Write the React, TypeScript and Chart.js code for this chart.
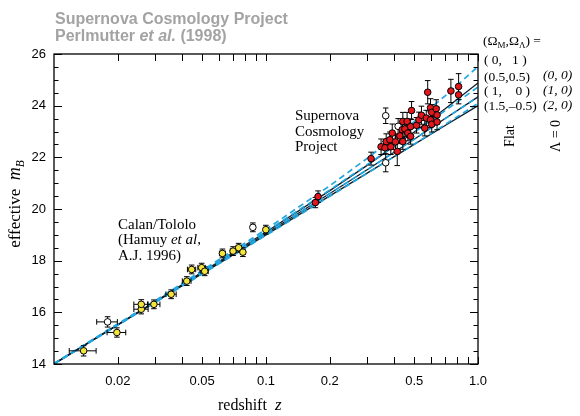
import React, { useEffect, useRef } from "react";
import { Chart, registerables } from "chart.js";

Chart.register(...registerables);

// ---------- data ----------
// Calan/Tololo (Hamuy et al. 1996) supernovae (yellow)
const calanZ = [0.0138, 0.0198, 0.0258, 0.0258, 0.0296, 0.0357, 0.0423, 0.0446, 0.0497, 0.0514, 0.0623, 0.0699, 0.0743, 0.0778, 0.0998];
const calanM = [14.51, 15.22, 16.12, 16.31, 16.31, 16.70, 17.21, 17.66, 17.73, 17.59, 18.28, 18.37, 18.50, 18.33, 19.20];
const calanErr = [0.2, 0.18, 0.18, 0.18, 0.17, 0.17, 0.17, 0.17, 0.17, 0.17, 0.17, 0.17, 0.17, 0.17, 0.17];
const calanZErr = [0.002, 0.002, 0.002, 0.002, 0.002, 0.002, 0.002, 0.002, 0.002, 0.002, 0.002, 0.002, 0.002, 0.002, 0.002];

// excluded low-redshift supernovae (open)
const openLowZ = [0.0179, 0.0867];
const openLowM = [15.63, 19.29];
const openLowErr = [0.2, 0.17];
const openLowZErr = [0.002, 0.002];

// Supernova Cosmology Project (red)
const scpZ = [0.171, 0.176, 0.313, 0.349, 0.364, 0.369, 0.384, 0.388, 0.394, 0.408, 0.416, 0.428, 0.439, 0.442, 0.442, 0.452, 0.463, 0.467, 0.481, 0.481, 0.486, 0.513, 0.526, 0.541, 0.561, 0.570, 0.579, 0.597, 0.597, 0.605, 0.605, 0.635, 0.641, 0.641, 0.745, 0.810, 0.810];
const scpM = [20.25, 20.48, 21.95, 22.41, 22.37, 22.61, 22.68, 22.41, 22.94, 22.60, 22.23, 22.83, 23.07, 23.39, 22.61, 23.10, 23.39, 22.94, 23.19, 22.81, 23.81, 23.24, 23.45, 23.63, 23.13, 23.52, 24.52, 23.92, 23.45, 23.74, 23.28, 23.88, 23.64, 23.37, 24.57, 24.74, 24.42];
const scpErr = [0.2, 0.22, 0.25, 0.3, 0.25, 0.3, 0.3, 0.3, 0.35, 0.3, 0.55, 0.3, 0.3, 0.35, 0.3, 0.3, 0.35, 0.3, 0.3, 0.3, 0.35, 0.3, 0.3, 0.35, 0.3, 0.3, 0.45, 0.35, 0.3, 0.3, 0.3, 0.35, 0.3, 0.3, 0.45, 0.5, 0.35];

// excluded high-redshift supernovae (open)
const openHighZ = [0.367, 0.420, 0.367];
const openHighM = [23.61, 23.20, 21.79];
const openHighErr = [0.3, 0.3, 0.35];

// model curves (Omega_M, Omega_Lambda)
const modelZ = [0.01, 0.03, 0.1, 0.2, 0.3, 0.5, 0.7, 1.0];
const flat_0_1 = [14.02, 16.45, 19.21, 20.90, 21.96, 23.38, 24.38, 25.51];
const flat_05_05 = [14.01, 16.43, 19.13, 20.74, 21.71, 22.97, 23.81, 24.72];
const flat_1_0 = [14.01, 16.40, 19.05, 20.60, 21.52, 22.70, 23.50, 24.34];
const flat_15_m05 = [14.00, 16.38, 18.98, 20.49, 21.38, 22.51, 23.27, 24.09];
const lam0_0 = [14.01, 16.42, 19.11, 20.71, 21.69, 22.98, 23.88, 24.88];
const lam0_1 = [14.01, 16.40, 19.05, 20.60, 21.52, 22.70, 23.50, 24.34];
const lam0_2 = [14.00, 16.39, 19.00, 20.51, 21.39, 22.50, 23.23, 24.00];

// axes
const xMin = 0.01;
const xMax = 1.0;
const xTickValues = [0.02, 0.03, 0.04, 0.05, 0.06, 0.07, 0.08, 0.09, 0.1, 0.2, 0.3, 0.4, 0.5, 0.6, 0.7, 0.8, 0.9, 1.0];
const xLabelValues = [0.02, 0.05, 0.1, 0.2, 0.5, 1.0];
const xLabelTexts = ["0.02", "0.05", "0.1", "0.2", "0.5", "1.0"];
const yMin = 14;
const yMax = 26;
const yTickValues = [14, 16, 18, 20, 22, 24, 26];
const yMinorStep = 0.5;

// ---------- styling ----------
const SANS = "'Liberation Sans', Arial, Helvetica, sans-serif";
const SERIF = "'Liberation Serif', 'Times New Roman', Times, serif";
const CYAN = "#22a6e0";
const DARK = "#0c1c28";

type Seg = { t: string; font: string; dy?: number };

function segWidth(ctx: CanvasRenderingContext2D, segs: Seg[]) {
  let w = 0;
  for (const s of segs) {
    ctx.font = s.font;
    w += ctx.measureText(s.t).width;
  }
  return w;
}

function drawSegs(ctx: CanvasRenderingContext2D, segs: Seg[], x: number, y: number) {
  let cx = x;
  for (const s of segs) {
    ctx.font = s.font;
    ctx.fillText(s.t, cx, y + (s.dy || 0));
    cx += ctx.measureText(s.t).width;
  }
}

const errorBarPlugin = {
  id: "errorBars",
  beforeDatasetDraw(chart: any, args: any) {
    if (args.index !== 3) return;
    const { ctx, scales } = chart;
    const xs = scales.x;
    const ys = scales.y;
    ctx.save();
    ctx.strokeStyle = "#000";
    ctx.lineWidth = 1;
    const cap = 2.8;
    for (let d = 0; d < 4; d++) {
      const data = chart.data.datasets[d].data as any[];
      ctx.beginPath();
      for (const p of data) {
        const px = xs.getPixelForValue(p.x);
        const py = ys.getPixelForValue(p.y);
        if (p.ey) {
          const y1 = ys.getPixelForValue(p.y - p.ey);
          const y2 = ys.getPixelForValue(p.y + p.ey);
          ctx.moveTo(px, y1);
          ctx.lineTo(px, y2);
          ctx.moveTo(px - cap, y1);
          ctx.lineTo(px + cap, y1);
          ctx.moveTo(px - cap, y2);
          ctx.lineTo(px + cap, y2);
        }
        if (p.ex) {
          const x1 = xs.getPixelForValue(p.x - p.ex);
          const x2 = xs.getPixelForValue(p.x + p.ex);
          ctx.moveTo(x1, py);
          ctx.lineTo(x2, py);
          ctx.moveTo(x1, py - cap);
          ctx.lineTo(x1, py + cap);
          ctx.moveTo(x2, py - cap);
          ctx.lineTo(x2, py + cap);
        }
      }
      ctx.stroke();
    }
    ctx.restore();
  },
};

const framePlugin = {
  id: "frameTicks",
  afterDraw(chart: any) {
    const { ctx, chartArea: a, scales } = chart;
    const xs = scales.x;
    const ys = scales.y;
    ctx.save();
    ctx.strokeStyle = "#000";
    ctx.lineWidth = 1.3;
    ctx.strokeRect(a.left, a.top, a.right - a.left, a.bottom - a.top);
    ctx.lineWidth = 1;
    ctx.beginPath();
    for (const v of xTickValues) {
      const px = Math.round(xs.getPixelForValue(v)) + 0.5;
      ctx.moveTo(px, a.bottom);
      ctx.lineTo(px, a.bottom - 7);
      ctx.moveTo(px, a.top);
      ctx.lineTo(px, a.top + 7);
    }
    for (let v = yMin; v <= yMax + 1e-9; v += yMinorStep) {
      const py = Math.round(ys.getPixelForValue(v)) + 0.5;
      const major = yTickValues.some((t) => Math.abs(t - v) < 1e-9);
      const len = major ? 8 : 4.5;
      ctx.moveTo(a.left, py);
      ctx.lineTo(a.left + len, py);
      ctx.moveTo(a.right, py);
      ctx.lineTo(a.right - len, py);
    }
    ctx.stroke();

    // ---- texts ----
    ctx.textBaseline = "alphabetic";
    ctx.textAlign = "left";

    // title
    ctx.fillStyle = "#a3a3a3";
    drawSegs(ctx, [{ t: "Supernova Cosmology Project", font: `bold 16px ${SANS}` }], 55, 24);
    drawSegs(
      ctx,
      [
        { t: "Perlmutter ", font: `bold 16px ${SANS}` },
        { t: "et al.", font: `italic bold 16px ${SANS}` },
        { t: " (1998)", font: `bold 16px ${SANS}` },
      ],
      55,
      41
    );

    ctx.fillStyle = "#000";
    // legend block
    const lf = `13.5px ${SERIF}`;
    const lfi = `italic 13.5px ${SERIF}`;
    const sub = `9px ${SERIF}`;
    drawSegs(
      ctx,
      [
        { t: "(\u03A9", font: lf },
        { t: "M", font: sub, dy: 3 },
        { t: ",\u03A9", font: lf },
        { t: "\u039B", font: sub, dy: 3 },
        { t: ") =", font: lf },
      ],
      483,
      45
    );
    drawSegs(ctx, [{ t: "( 0,   1 )", font: lf }], 484, 64);
    drawSegs(ctx, [{ t: "(0.5,0.5)", font: lf }], 484, 80.5);
    drawSegs(ctx, [{ t: "( 1,    0 )", font: lf }], 484, 95);
    drawSegs(ctx, [{ t: "(1.5,\u20130.5)", font: lf }], 484, 109.5);
    drawSegs(ctx, [{ t: "(0, 0)", font: lfi }], 543, 79);
    drawSegs(ctx, [{ t: "(1, 0)", font: lfi }], 543, 94);
    drawSegs(ctx, [{ t: "(2, 0)", font: lfi }], 543, 109);

    const rot = (text: string, cx: number, cy: number, font: string) => {
      ctx.save();
      ctx.translate(cx, cy);
      ctx.rotate(-Math.PI / 2);
      ctx.font = font;
      ctx.textAlign = "center";
      ctx.textBaseline = "middle";
      ctx.fillText(text, 0, 0);
      ctx.restore();
    };
    rot("Flat", 510, 136, `14px ${SERIF}`);
    rot("\u039B = 0", 556, 136, `14px ${SERIF}`);

    // annotations
    const af = `15px ${SERIF}`;
    const afi = `italic 15px ${SERIF}`;
    drawSegs(ctx, [{ t: "Supernova", font: af }], 295, 120);
    drawSegs(ctx, [{ t: "Cosmology", font: af }], 295, 135.5);
    drawSegs(ctx, [{ t: "Project", font: af }], 295, 151);
    drawSegs(ctx, [{ t: "Calan/Tololo", font: af }], 118, 228.5);
    drawSegs(
      ctx,
      [
        { t: "(Hamuy ", font: af },
        { t: "et al", font: afi },
        { t: ",", font: af },
      ],
      118,
      244
    );
    drawSegs(ctx, [{ t: "A.J. 1996)", font: af }], 118, 259.5);

    // x-axis title
    drawSegs(
      ctx,
      [
        { t: "redshift  ", font: `16px ${SERIF}` },
        { t: "z", font: `italic 17px ${SERIF}` },
      ],
      218,
      410
    );

    // y-axis title
    const ySegs: Seg[] = [
      { t: "effective  ", font: `17px ${SERIF}` },
      { t: "m", font: `italic 18px ${SERIF}` },
      { t: "B", font: `italic 11.5px ${SERIF}`, dy: 4 },
    ];
    const w = segWidth(ctx, ySegs);
    ctx.save();
    ctx.translate(20, 204);
    ctx.rotate(-Math.PI / 2);
    drawSegs(ctx, ySegs, -w / 2, 0);
    ctx.restore();

    ctx.restore();
  },
};

function pts(zs: number[], ms: number[], es: number[], exs?: number[]) {
  return zs.map((z, i) => ({ x: z, y: ms[i], ey: es[i], ex: exs ? exs[i] : 0 }));
}

function line(vals: number[], color: string, dashed: boolean, width: number) {
  return {
    data: modelZ.map((z, i) => ({ x: z, y: vals[i] })),
    showLine: true,
    borderColor: color,
    borderWidth: width,
    borderDash: dashed ? [6, 4] : [],
    pointRadius: 0,
    fill: false,
    tension: 0,
  };
}

function marker(data: any[], fill: string) {
  return {
    data,
    pointRadius: 3.3,
    pointBackgroundColor: fill,
    pointBorderColor: "#000",
    pointBorderWidth: 1,
    showLine: false,
  };
}

export default function App() {
  const ref = useRef<HTMLCanvasElement | null>(null);

  useEffect(() => {
    if (!ref.current) return;
    const chart = new Chart(ref.current, {
      type: "scatter",
      data: {
        datasets: [
          marker(pts(scpZ, scpM, scpErr), "#e3171e"),
          marker(pts(openHighZ, openHighM, openHighErr), "#ffffff"),
          marker(pts(openLowZ, openLowM, openLowErr, openLowZErr), "#ffffff"),
          marker(pts(calanZ, calanM, calanErr, calanZErr), "#f3e53c"),
          line(flat_0_1, CYAN, true, 1.7),
          line(flat_05_05, CYAN, true, 1.7),
          line(flat_1_0, CYAN, true, 1.7),
          line(flat_15_m05, CYAN, true, 1.7),
          line(lam0_0, DARK, false, 1.3),
          line(lam0_1, DARK, false, 1.3),
          line(lam0_2, DARK, false, 1.3),
        ] as any,
      },
      options: {
        animation: false,
        responsive: false,
        events: [],
        layout: { padding: { left: 0, right: 102, top: 54, bottom: 0 } },
        plugins: { legend: { display: false }, tooltip: { enabled: false }, title: { display: false } },
        scales: {
          x: {
            type: "logarithmic",
            min: xMin,
            max: xMax,
            grid: { display: false, drawTicks: false },
            border: { display: false },
            afterBuildTicks: (s: any) => {
              s.ticks = xTickValues.map((v) => ({ value: v }));
            },
            afterFit: (s: any) => {
              s.height = 52;
            },
            ticks: {
              autoSkip: false,
              maxRotation: 0,
              minRotation: 0,
              padding: 10,
              color: "#000",
              font: { family: SANS, size: 13 },
              callback: (v: any) => {
                const i = xLabelValues.findIndex((t) => Math.abs(t - Number(v)) < 1e-9);
                return i >= 0 ? xLabelTexts[i] : "";
              },
            },
          },
          y: {
            type: "linear",
            min: yMin,
            max: yMax,
            grid: { display: false, drawTicks: false },
            border: { display: false },
            afterBuildTicks: (s: any) => {
              s.ticks = yTickValues.map((v) => ({ value: v }));
            },
            afterFit: (s: any) => {
              s.width = 54;
            },
            ticks: {
              padding: 8,
              color: "#000",
              font: { family: SANS, size: 13 },
              callback: (v: any) => String(v),
            },
          },
        },
      } as any,
      plugins: [errorBarPlugin, framePlugin],
    });
    return () => chart.destroy();
  }, []);

  return (
    <div style={{ position: "absolute", left: 0, top: 0, width: 580, height: 416, background: "#fff" }}>
      <canvas ref={ref} width={580} height={416} style={{ display: "block" }} />
    </div>
  );
}
